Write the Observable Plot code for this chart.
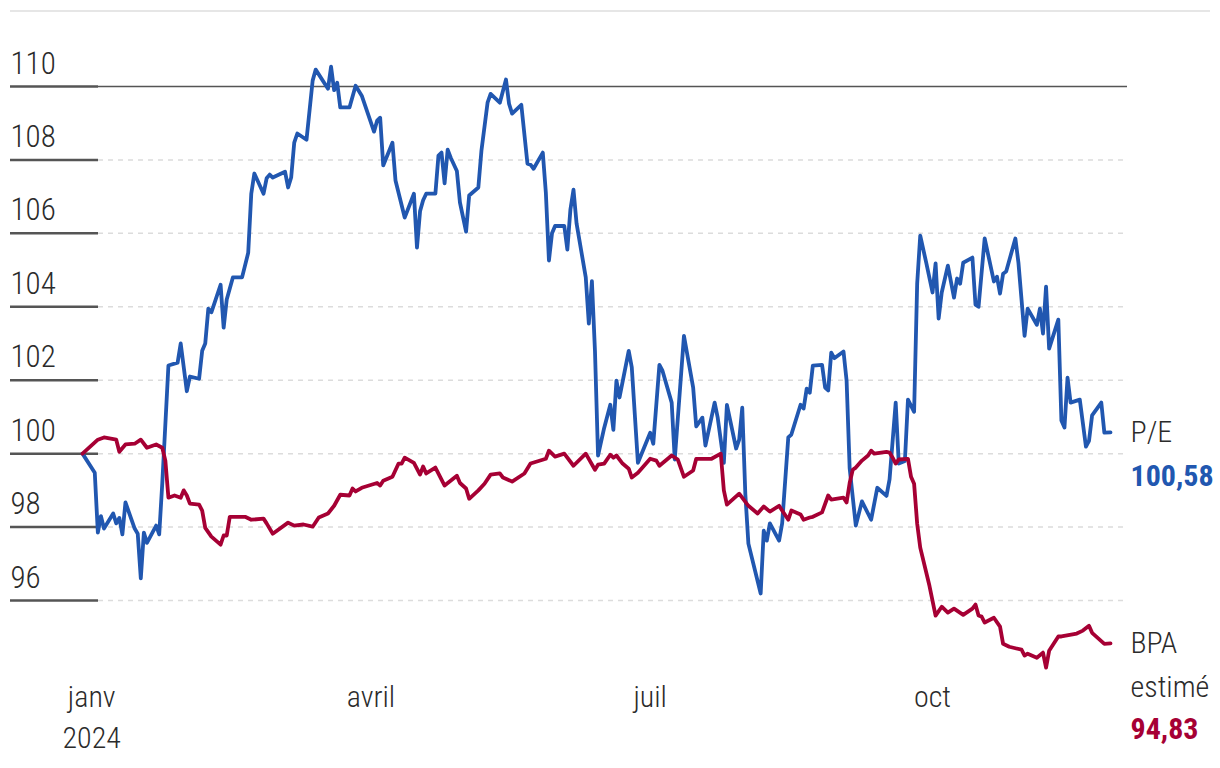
<!DOCTYPE html>
<html>
<head>
<meta charset="utf-8">
<script src="https://cdn.jsdelivr.net/npm/d3@7"></script>
<script src="https://cdn.jsdelivr.net/npm/@observablehq/plot@0.6"></script>
<style>
  html, body { margin: 0; padding: 0; background: #fff; }
  #wrap { position: relative; width: 1220px; height: 768px; font-family: "Roboto Condensed", "Liberation Sans Narrow", "Arial Narrow", sans-serif; }
  #topline { position: absolute; left: 10px; top: 10px; width: 1200px; height: 2px; background: #e6e6e6; }
  #chart { position: absolute; left: 0; top: 0; }
</style>
</head>
<body>
<div id="wrap"><div id="topline"></div><div id="chart"></div></div>
<script>
const peDates = ["2023-12-29","2024-01-02","2024-01-03","2024-01-04","2024-01-05","2024-01-08","2024-01-09","2024-01-10","2024-01-11","2024-01-12","2024-01-15","2024-01-16","2024-01-17","2024-01-18","2024-01-19","2024-01-22","2024-01-23","2024-01-24","2024-01-26","2024-01-29","2024-01-30","2024-02-01","2024-02-02","2024-02-05","2024-02-06","2024-02-07","2024-02-08","2024-02-09","2024-02-12","2024-02-13","2024-02-14","2024-02-16","2024-02-19","2024-02-21","2024-02-22","2024-02-23","2024-02-26","2024-02-27","2024-02-28","2024-02-29","2024-03-04","2024-03-05","2024-03-06","2024-03-07","2024-03-08","2024-03-11","2024-03-13","2024-03-14","2024-03-18","2024-03-19","2024-03-20","2024-03-21","2024-03-22","2024-03-25","2024-03-27","2024-03-29","2024-04-02","2024-04-03","2024-04-04","2024-04-05","2024-04-08","2024-04-09","2024-04-12","2024-04-15","2024-04-16","2024-04-17","2024-04-18","2024-04-19","2024-04-22","2024-04-23","2024-04-24","2024-04-25","2024-04-26","2024-04-27","2024-04-29","2024-04-30","2024-05-02","2024-05-03","2024-05-06","2024-05-07","2024-05-09","2024-05-10","2024-05-13","2024-05-15","2024-05-16","2024-05-17","2024-05-20","2024-05-22","2024-05-23","2024-05-24","2024-05-27","2024-05-28","2024-05-29","2024-05-30","2024-05-31","2024-06-03","2024-06-04","2024-06-05","2024-06-06","2024-06-07","2024-06-10","2024-06-11","2024-06-12","2024-06-13","2024-06-14","2024-06-16","2024-06-18","2024-06-19","2024-06-20","2024-06-21","2024-06-24","2024-06-25","2024-06-27","2024-07-01","2024-07-02","2024-07-04","2024-07-05","2024-07-08","2024-07-09","2024-07-12","2024-07-15","2024-07-16","2024-07-18","2024-07-19","2024-07-22","2024-07-23","2024-07-25","2024-07-26","2024-07-29","2024-07-30","2024-07-31","2024-08-01","2024-08-02","2024-08-06","2024-08-07","2024-08-08","2024-08-09","2024-08-12","2024-08-13","2024-08-15","2024-08-16","2024-08-19","2024-08-20","2024-08-21","2024-08-22","2024-08-23","2024-08-26","2024-08-27","2024-08-28","2024-08-29","2024-08-30","2024-09-02","2024-09-03","2024-09-04","2024-09-06","2024-09-08","2024-09-11","2024-09-13","2024-09-16","2024-09-17","2024-09-19","2024-09-20","2024-09-22","2024-09-23","2024-09-25","2024-09-26","2024-09-27","2024-09-29","2024-10-01","2024-10-02","2024-10-03","2024-10-04","2024-10-06","2024-10-08","2024-10-09","2024-10-10","2024-10-11","2024-10-14","2024-10-15","2024-10-16","2024-10-18","2024-10-21","2024-10-22","2024-10-23","2024-10-24","2024-10-25","2024-10-28","2024-10-29","2024-10-31","2024-11-01","2024-11-04","2024-11-05","2024-11-06","2024-11-07","2024-11-08","2024-11-11","2024-11-12","2024-11-13","2024-11-14","2024-11-15","2024-11-18","2024-11-20","2024-11-21","2024-11-22","2024-11-25","2024-11-26","2024-11-28"];
const peValues = [100,99.48,97.85,98.3,97.96,98.37,98.1,98.25,97.8,98.67,97.96,97.82,96.6,97.85,97.57,98.04,97.8,99.2,102.4,102.48,103.0,101.7,102.1,102.04,102.8,103.0,103.95,103.85,104.6,103.43,104.2,104.8,104.8,105.47,107.08,107.63,107.08,107.5,107.6,107.52,107.68,107.25,107.52,108.47,108.72,108.55,110.16,110.46,109.94,110.54,109.9,110.1,109.43,109.43,110.02,109.75,108.77,109.07,109.15,107.85,108.47,107.44,106.43,107.08,105.61,106.6,106.9,107.08,107.08,108.12,108.2,107.36,108.28,108.06,107.7,106.84,106.05,107.03,107.25,108.25,109.56,109.8,109.56,110.19,109.53,109.26,109.5,107.9,107.87,107.76,108.2,107.1,105.26,106.0,106.2,106.2,105.56,106.65,107.19,106.27,104.8,103.54,104.7,102.8,99.95,100.7,101.33,100.65,101.99,101.53,102.8,102.35,99.75,100.57,100.27,102.42,102.26,101.39,99.84,103.21,101.8,100.74,100.98,100.22,101.39,100.98,99.75,101.33,100.14,100.38,101.25,98.9,97.55,96.19,97.9,97.63,98.1,97.63,98.1,100.44,100.52,101.33,101.23,101.77,101.66,102.4,102.42,101.8,101.72,102.75,102.6,102.78,101.99,99.6,98.04,98.7,98.2,99.07,98.85,99.3,101.39,99.73,99.8,101.47,101.14,104.63,105.94,105.18,104.39,105.18,103.68,104.39,105.12,104.25,104.77,104.63,105.2,105.34,104.06,104.0,105.86,104.69,104.82,104.36,104.9,104.96,105.86,105.2,103.21,103.95,103.51,103.95,103.27,104.55,102.86,103.65,100.9,100.71,102.07,101.39,101.47,100.19,100.35,101.04,101.39,100.57,100.58];

const bpaDates = ["2023-12-29","2024-01-03","2024-01-05","2024-01-09","2024-01-10","2024-01-12","2024-01-15","2024-01-17","2024-01-19","2024-01-22","2024-01-24","2024-01-25","2024-01-26","2024-01-28","2024-01-30","2024-01-31","2024-02-01","2024-02-02","2024-02-05","2024-02-06","2024-02-07","2024-02-09","2024-02-12","2024-02-13","2024-02-14","2024-02-15","2024-02-20","2024-02-22","2024-02-26","2024-02-27","2024-02-29","2024-03-05","2024-03-07","2024-03-10","2024-03-13","2024-03-15","2024-03-18","2024-03-20","2024-03-22","2024-03-25","2024-03-26","2024-03-27","2024-03-29","2024-04-03","2024-04-04","2024-04-05","2024-04-08","2024-04-10","2024-04-11","2024-04-12","2024-04-15","2024-04-17","2024-04-18","2024-04-19","2024-04-22","2024-04-25","2024-04-29","2024-04-30","2024-05-02","2024-05-03","2024-05-06","2024-05-08","2024-05-10","2024-05-13","2024-05-14","2024-05-17","2024-05-21","2024-05-23","2024-05-28","2024-05-29","2024-05-31","2024-06-03","2024-06-06","2024-06-10","2024-06-13","2024-06-14","2024-06-16","2024-06-18","2024-06-19","2024-06-20","2024-06-22","2024-06-24","2024-06-25","2024-06-27","2024-07-01","2024-07-03","2024-07-04","2024-07-08","2024-07-10","2024-07-12","2024-07-15","2024-07-16","2024-07-21","2024-07-24","2024-07-25","2024-07-26","2024-07-30","2024-08-02","2024-08-05","2024-08-07","2024-08-09","2024-08-12","2024-08-13","2024-08-15","2024-08-16","2024-08-19","2024-08-20","2024-08-22","2024-08-23","2024-08-26","2024-08-28","2024-08-29","2024-09-02","2024-09-03","2024-09-04","2024-09-05","2024-09-06","2024-09-08","2024-09-10","2024-09-11","2024-09-12","2024-09-16","2024-09-17","2024-09-18","2024-09-19","2024-09-20","2024-09-23","2024-09-24","2024-09-25","2024-09-26","2024-09-27","2024-09-30","2024-10-02","2024-10-04","2024-10-06","2024-10-08","2024-10-11","2024-10-14","2024-10-15","2024-10-16","2024-10-17","2024-10-18","2024-10-21","2024-10-23","2024-10-24","2024-10-26","2024-10-30","2024-10-31","2024-11-01","2024-11-04","2024-11-06","2024-11-07","2024-11-08","2024-11-11","2024-11-12","2024-11-17","2024-11-19","2024-11-21","2024-11-22","2024-11-26","2024-11-28"];
const bpaValues = [100,100.38,100.44,100.38,100.05,100.25,100.27,100.38,100.16,100.25,100.16,99.81,98.8,98.86,98.8,99.0,98.86,98.64,98.61,98.45,97.98,97.74,97.52,97.77,97.77,98.28,98.28,98.2,98.23,98.1,97.82,98.12,98.04,98.07,98.01,98.26,98.37,98.58,98.88,98.86,99.05,98.97,99.07,99.2,99.13,99.26,99.37,99.73,99.73,99.89,99.75,99.43,99.65,99.46,99.62,99.13,99.4,99.2,99.05,98.77,99.0,99.18,99.43,99.46,99.35,99.24,99.46,99.73,99.86,100.08,99.92,100.0,99.67,100.0,99.56,99.7,99.73,99.97,99.89,99.95,99.73,99.59,99.35,99.48,99.86,99.81,99.67,99.95,99.84,99.37,99.54,99.86,99.86,100.0,99.0,98.61,98.91,98.58,98.37,98.56,98.42,98.58,98.45,98.2,98.45,98.34,98.2,98.26,98.28,98.4,98.86,98.75,98.8,98.67,99.2,99.56,99.62,99.81,99.95,100.08,100.0,100.05,100.03,99.89,99.73,99.84,99.86,99.37,99.18,98.09,97.44,96.4,95.59,95.83,95.67,95.78,95.61,95.78,95.89,95.59,95.56,95.4,95.53,95.29,94.82,94.74,94.66,94.5,94.55,94.44,94.58,94.17,94.63,95.02,95.02,95.1,95.18,95.31,95.12,94.82,94.83];

const yTicks = [96, 98, 100, 102, 104, 106, 108, 110];
const xTickDates = ["2024-01-01", "2024-04-01", "2024-07-01", "2024-10-01"];
const xTickLabels = ["janv\n2024", "avril", "juil", "oct"];
const seriesNames = ["P/E", "BPA\nestimé"];
const seriesColors = ["#2157b0", "#a60034"];

const parse = d3.utcParse("%Y-%m-%d");
const pe = peDates.map((d, i) => ({date: parse(d), value: peValues[i]}));
const bpa = bpaDates.map((d, i) => ({date: parse(d), value: bpaValues[i]}));
const xTicks = xTickDates.map((d, i) => ({date: parse(d), label: xTickLabels[i]}));
const fmt = v => v.toFixed(2).replace(".", ",");
const peLast = [pe[pe.length - 1]];
const bpaLast = [bpa[bpa.length - 1]];
const FONT = "\"Roboto Condensed\", \"Liberation Sans Narrow\", \"Arial Narrow\", sans-serif";
const TXT = "#2b2b2b";

const chart = Plot.plot({
  width: 1220,
  height: 768,
  marginLeft: 98,
  marginRight: 93,
  marginTop: 86,
  marginBottom: 108,
  style: {fontFamily: FONT, fontSize: "30px", color: TXT, background: "transparent", overflow: "visible"},
  x: {type: "utc", domain: [pe[0].date, pe[pe.length - 1].date], range: [82, 1110], axis: null},
  y: {domain: [96, 110], range: [600, 86], axis: null},
  marks: [
    Plot.ruleY(yTicks.filter(v => v !== 110), {stroke: "#dcdcdc", strokeWidth: 1.5, strokeDasharray: "5,5"}),
    Plot.ruleY([110], {stroke: "#555", strokeWidth: 1.5}),
    Plot.axisY({ticks: yTicks, tickSize: 88, tickFormat: () => "", label: null, stroke: "#555", strokeWidth: 2.5}),
    Plot.text(yTicks, {y: d => d, text: d => String(d), frameAnchor: "left", textAnchor: "start", lineAnchor: "bottom", dx: -88, dy: -13, fontSize: 31, fontWeight: 300, fill: TXT}),
    Plot.text(xTicks, {x: "date", text: "label", frameAnchor: "bottom", lineAnchor: "top", dy: 18, lineHeight: 1.35, fontSize: 30, fontWeight: 300, fill: TXT}),
    Plot.line(pe, {x: "date", y: "value", stroke: seriesColors[0], strokeWidth: 3.8, strokeLinejoin: "round"}),
    Plot.line(bpa, {x: "date", y: "value", stroke: seriesColors[1], strokeWidth: 3.8, strokeLinejoin: "round"}),
    Plot.text(peLast, {x: "date", y: "value", text: () => seriesNames[0], textAnchor: "start", dx: 20, fontSize: 30, fontWeight: 300, fill: TXT}),
    Plot.text(peLast, {x: "date", y: "value", text: d => fmt(d.value), textAnchor: "start", dx: 20, dy: 44, fontSize: 30, fontWeight: "bold", fill: seriesColors[0]}),
    Plot.text(bpaLast, {x: "date", y: "value", text: () => seriesNames[1], textAnchor: "start", lineAnchor: "top", lineHeight: 1.45, dx: 20, dy: -21, fontSize: 30, fontWeight: 300, fill: TXT}),
    Plot.text(bpaLast, {x: "date", y: "value", text: d => fmt(d.value), textAnchor: "start", dx: 20, dy: 86, fontSize: 30, fontWeight: "bold", fill: seriesColors[1]})
  ]
});
document.getElementById("chart").appendChild(chart);
</script>
</body>
</html>
